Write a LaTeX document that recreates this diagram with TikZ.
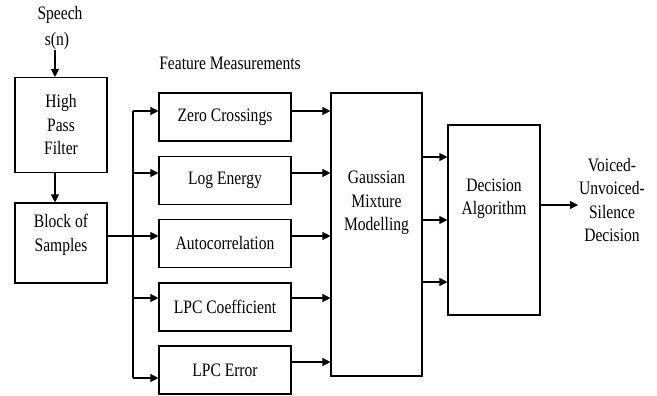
\documentclass[tikz,border=0pt]{standalone}
\usepackage{fontspec}
\setmainfont{Liberation Serif}
\newfontfamily\diagfont{Liberation Serif}[FakeStretch=0.82]
\usetikzlibrary{arrows.meta, positioning}

\begin{document}
\begin{tikzpicture}[x=1pt, y=-1pt,
    font=\diagfont\fontsize{19}{23.5}\selectfont,
    box/.style={draw, line width=1.1pt, align=center, inner sep=0pt},
    featbox/.style={box, minimum width=132pt, minimum height=48pt},
    txt/.style={align=center, inner sep=0pt},
    arr/.style={line width=1.1pt, -{Triangle[length=8pt, width=8pt]}}]
  \useasboundingbox (0,0) rectangle (657,396);

  % input
  \node[txt] (speech) at (60,15) {Speech};
  \node[txt] (sn) at (57,41) {s(n)};
  \coordinate (sin) at (55,50);

  % front end
  \node[box, minimum width=92pt, minimum height=95pt] (hpf) at (61,125) {High\\Pass\\Filter};
  \node[box, minimum width=92pt, minimum height=80pt] (block) at (61,243) {};
  \node[txt] (blocktxt) at (61,235) {Block of\\Samples};

  \draw[arr] (sin) -- (sin |- hpf.north);
  \draw[arr] (sin |- hpf.south) -- (sin |- block.north);

  % feature measurements
  \node[txt] (feat) at (230,63) {Feature Measurements};
  \node[featbox] (zc) at (225,117) {Zero Crossings};
  \node[featbox] (le) at (225,180.5) {Log Energy};
  \node[featbox] (ac) at (225,243.5) {Autocorrelation};
  \node[featbox] (lc) at (225,307) {LPC Coefficient};
  \node[featbox] (lerr) at (225,370) {LPC Error};

  % bus
  \coordinate (bustop) at (133,111);
  \coordinate (busbot) at (133,378);
  \draw[line width=1.1pt] (bustop) -- (busbot);
  \draw[line width=1.1pt] (block.east |- 0,236) -- (133,236);
  \draw[arr] (bustop) -- ([yshift=6pt]zc.west);
  \draw[arr] (133,173) -- ([yshift=7.5pt]le.west);
  \draw[arr] (133,236) -- ([yshift=7.5pt]ac.west);
  \draw[arr] (133,298) -- ([yshift=9pt]lc.west);
  \draw[arr] (busbot) -- ([yshift=-8pt]lerr.west);

  % gaussian mixture modelling
  \node[box, minimum width=91pt, minimum height=283pt] (gmm) at (376.5,234.5) {};
  \node[txt] (gmmtxt) at (376.5,203) {Gaussian\\Mixture\\Modelling};

  \draw[arr] ([yshift=6pt]zc.east) -- (gmm.west |- 0,111);
  \draw[arr] ([yshift=7.5pt]le.east) -- (gmm.west |- 0,173);
  \draw[arr] ([yshift=7.5pt]ac.east) -- (gmm.west |- 0,236);
  \draw[arr] ([yshift=9pt]lc.east) -- (gmm.west |- 0,298);
  \draw[arr] ([yshift=8pt]lerr.east) -- (gmm.west |- 0,362);

  % decision
  \node[box, minimum width=92pt, minimum height=190pt] (dec) at (494,220) {};
  \node[txt] (dectxt) at (494,199) {Decision\\Algorithm};

  \draw[arr] (gmm.east |- 0,157) -- (dec.west |- 0,157);
  \draw[arr] (gmm.east |- 0,220) -- (dec.west |- 0,220);
  \draw[arr] (gmm.east |- 0,282) -- (dec.west |- 0,282);

  % output
  \node[txt] (out) at (612,200) {Voiced-\\Unvoiced-\\Silence\\Decision};
  \draw[arr] (dec.east |- 0,205) -- (578,205);
\end{tikzpicture}
\end{document}
